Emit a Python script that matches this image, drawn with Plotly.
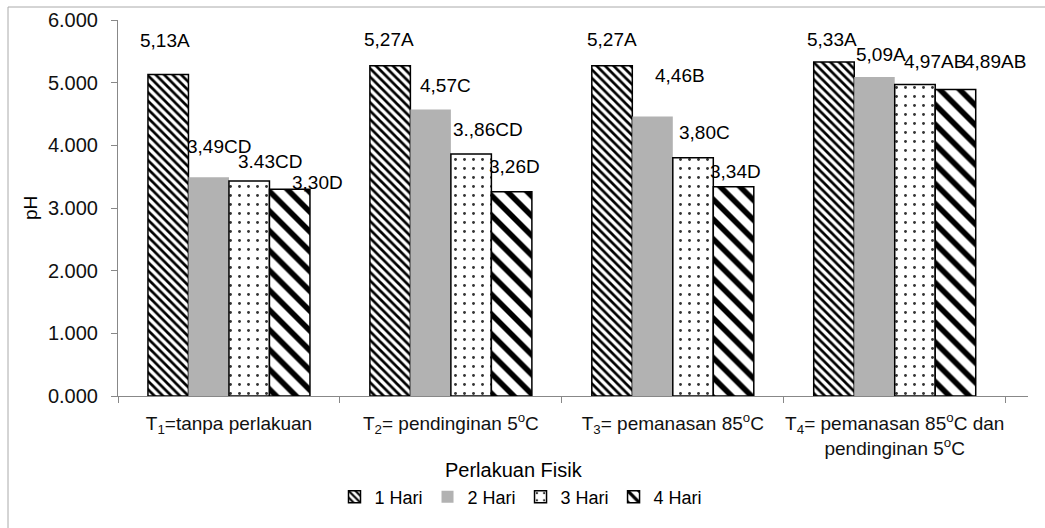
import plotly.graph_objects as go

categories = [
    "T<sub>1</sub>=tanpa perlakuan",
    "T<sub>2</sub>= pendinginan 5<sup>o</sup>C",
    "T<sub>3</sub>= pemanasan 85<sup>o</sup>C",
    "T<sub>4</sub>= pemanasan 85<sup>o</sup>C dan<br>pendinginan 5<sup>o</sup>C",
]
series_names = ["1 Hari", "2 Hari", "3 Hari", "4 Hari"]
hari1 = [5.13, 5.27, 5.27, 5.33]
hari2 = [3.49, 4.57, 4.46, 5.09]
hari3 = [3.43, 3.86, 3.80, 4.97]
hari4 = [3.30, 3.26, 3.34, 4.89]
labels1 = ["5,13A", "5,27A", "5,27A", "5,33A"]
labels2 = ["3,49CD", "4,57C", "4,46B", "5,09A"]
labels3 = ["3.43CD", "3.,86CD", "3,80C", "4,97AB"]
labels4 = ["3,30D", "3,26D", "3,34D", "4,89AB"]
y_ticks = [0, 1, 2, 3, 4, 5, 6]

FONT = "Liberation Sans, Arial, sans-serif"

# layout geometry (pixels)
W, H = 1045, 528
ML, MR, MT, MB = 118, 17, 20, 132
PW, PH = W - ML - MR, H - MT - MB
BARGAP = 0.27
BAR_PX = PW / len(categories) * (1 - BARGAP) / len(series_names)

# label nudges (style only): extra x shift and height above bar top, px
label_dx = [[-2, 0, 1, 0], [11, 15, 28, 7], [20, 16, 11, 20], [26, 1, 0, 38]]
label_dy = [[34, 26, 26, 22], [31, 24, 41, 23], [20, 25, 25, 23], [7, 25, 15, 28]]

styles = [
    dict(color="white", line=dict(color="black", width=1.5),
         pattern=dict(shape="\\", size=6, solidity=0.45, fgcolor="black", bgcolor="white", fillmode="replace")),
    dict(color="#b2b2b2", line=dict(width=0)),
    dict(color="white", line=dict(color="black", width=1.5),
         pattern=dict(shape=".", size=9, solidity=0.08, fgcolor="#333333", bgcolor="white", fillmode="replace")),
    dict(color="white", line=dict(color="black", width=1.5),
         pattern=dict(shape="\\", size=14, solidity=0.4, fgcolor="black", bgcolor="white", fillmode="replace")),
]

fig = go.Figure()
all_vals = [hari1, hari2, hari3, hari4]
all_labs = [labels1, labels2, labels3, labels4]
for si, (name, vals, st) in enumerate(zip(series_names, all_vals, styles)):
    fig.add_trace(go.Bar(x=categories, y=vals, name=name, marker=st, hoverinfo="x+y+name"))

annotations = []
for si, (vals, labs) in enumerate(zip(all_vals, all_labs)):
    for ci, (cat, v, lab) in enumerate(zip(categories, vals, labs)):
        annotations.append(dict(
            x=cat, y=v, xref="x", yref="y", text=lab, showarrow=False,
            xanchor="center", yanchor="middle",
            xshift=(si - 1.5) * BAR_PX + label_dx[si][ci],
            yshift=label_dy[si][ci],
            font=dict(family=FONT, size=19, color="black"),
        ))

annotations.append(dict(
    text="Perlakuan Fisik", xref="paper", yref="paper",
    x=(514 - ML) / PW, y=(H - MB - 470) / PH, xanchor="center", yanchor="middle",
    showarrow=False, font=dict(family=FONT, size=20, color="black")))
annotations.append(dict(
    text="pH", xref="paper", yref="paper", textangle=-90,
    x=(30 - ML) / PW, y=(H - MB - 208) / PH, xanchor="center", yanchor="middle",
    showarrow=False, font=dict(family=FONT, size=19, color="black")))

fig.update_layout(
    width=W, height=H,
    margin=dict(l=ML, r=MR, t=MT, b=MB),
    paper_bgcolor="white", plot_bgcolor="white",
    barmode="group", bargap=BARGAP, bargroupgap=0,
    font=dict(family=FONT, size=20, color="black"),
    showlegend=True,
    legend=dict(orientation="h", xref="paper", x=(521 - ML) / PW, xanchor="center",
                yref="container", y=(H - 497) / H, yanchor="middle",
                font=dict(family=FONT, size=18), itemwidth=30, tracegroupgap=0),
    xaxis=dict(
        automargin=False, tickangle=0,
        showline=True, linecolor="#888888", linewidth=1,
        ticks="outside", tickson="boundaries", ticklen=6, tickcolor="#888888",
        ticklabelstandoff=10,
        tickfont=dict(family=FONT, size=19, color="#111111"),
    ),
    yaxis=dict(
        automargin=False,
        range=[0, 6], tickvals=y_ticks, tickformat=".3f",
        showline=True, linecolor="#888888", linewidth=1,
        ticks="outside", ticklen=6, tickcolor="#888888", ticklabelstandoff=9,
        showgrid=False, zeroline=False,
        tickfont=dict(family=FONT, size=20, color="#111111"),
    ),
    annotations=annotations,
    shapes=[
        dict(type="line", xref="paper", yref="paper",
             x0=(8 - ML) / PW, x1=(W - ML) / PW, y0=(H - MB - 7) / PH, y1=(H - MB - 7) / PH,
             line=dict(color="#aaaaaa", width=1)),
        dict(type="line", xref="paper", yref="paper",
             x0=(8 - ML) / PW, x1=(8 - ML) / PW, y0=(H - MB - H) / PH, y1=(H - MB - 7) / PH,
             line=dict(color="#aaaaaa", width=1)),
    ],
)

fig.write_html("out.html")
